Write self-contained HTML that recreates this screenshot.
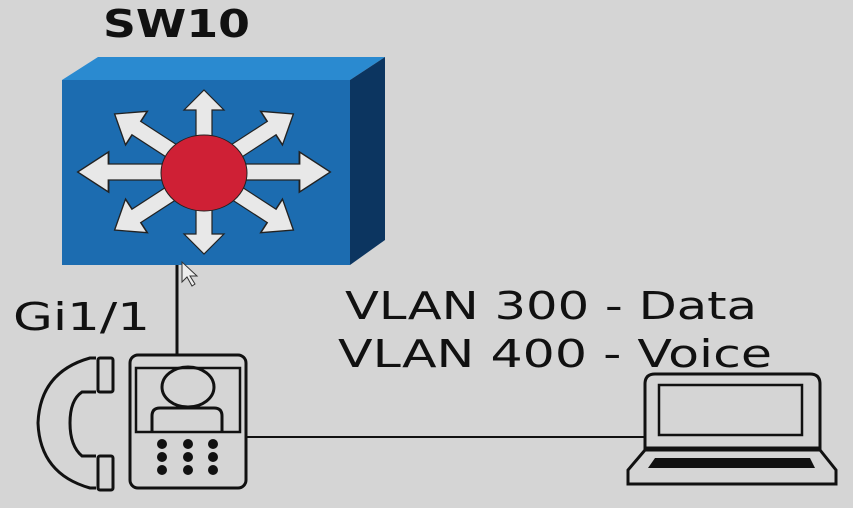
<!DOCTYPE html>
<html><head><style>html,body{margin:0;padding:0;background:#d5d5d5;}svg{display:block}</style></head>
<body>
<svg width="853" height="508" viewBox="0 0 853 508" xmlns="http://www.w3.org/2000/svg">
<rect width="853" height="508" fill="#d5d5d5"/>
<text x="103" y="37" font-family="DejaVu Sans, Liberation Sans, sans-serif" font-weight="bold" font-size="38" textLength="147" lengthAdjust="spacingAndGlyphs" fill="#111">SW10</text>
<!-- switch -->
<polygon points="62,80 98,57 385,57 350,80" fill="#2a8ad0"/>
<polygon points="350,80 385,57 385,240 350,265" fill="#0c3560"/>
<rect x="62" y="80" width="288" height="185" fill="#1c6cb0"/>
<defs>
  <polygon id="a" points="-8,0 -8,-62 -20,-62 0,-82 20,-62 8,-62 8,0" fill="#e8e8e8" stroke="#222" stroke-width="1.2"/>
</defs>
<g transform="translate(204,172)">
  <use href="#a" transform="rotate(-57) scale(1,1.3)"/>
  <use href="#a" transform="rotate(57) scale(1,1.3)"/>
  <use href="#a" transform="rotate(123) scale(1,1.3)"/>
  <use href="#a" transform="rotate(-123) scale(1,1.3)"/>
  <use href="#a"/>
  <use href="#a" transform="rotate(90) scale(1,1.54)"/>
  <use href="#a" transform="rotate(180)"/>
  <use href="#a" transform="rotate(270) scale(1,1.54)"/>
</g>
<ellipse cx="204" cy="173" rx="43" ry="38" fill="#cf2035" stroke="#222" stroke-width="1"/>
<!-- cursor -->
<polygon points="182,262 182,282 187,277 192,286 195,284 190,276 197,276" fill="#eee" stroke="#333" stroke-width="1"/>
<!-- links -->
<line x1="177" y1="265" x2="177" y2="355" stroke="#111" stroke-width="3"/>
<line x1="246" y1="437" x2="645" y2="437" stroke="#111" stroke-width="2"/>
<text x="13" y="330" font-family="DejaVu Sans, Liberation Sans, sans-serif" font-size="38" textLength="137" lengthAdjust="spacingAndGlyphs" fill="#111">Gi1/1</text>
<text x="345" y="319" font-family="DejaVu Sans, Liberation Sans, sans-serif" font-size="38" textLength="412" lengthAdjust="spacingAndGlyphs" fill="#111">VLAN 300 - Data</text>
<text x="338" y="367" font-family="DejaVu Sans, Liberation Sans, sans-serif" font-size="38" textLength="434" lengthAdjust="spacingAndGlyphs" fill="#111">VLAN 400 - Voice</text>
<!-- phone -->
<g fill="none" stroke="#111" stroke-width="3">
  <rect x="130" y="355" width="116" height="133" rx="8"/>
  <rect x="136" y="368" width="104" height="64" stroke-width="2.5"/>
  <ellipse cx="188" cy="387" rx="26" ry="20"/>
  <path d="M152,432 V416 Q152,408 160,408 H214 Q222,408 222,416 V432"/>
  <rect x="98" y="358" width="15" height="34" rx="2"/>
  <rect x="98" y="456" width="15" height="34" rx="2"/>
  <path d="M96,358 H90 Q40,372 38,423 Q40,474 90,488 H96"/>
  <path d="M96,392 H82 Q70,400 70,423 Q70,446 82,456 H96"/>
</g>
<g fill="#111">
  <circle cx="162" cy="444" r="5"/><circle cx="188" cy="444" r="5"/><circle cx="213" cy="444" r="5"/>
  <circle cx="162" cy="457" r="5"/><circle cx="188" cy="457" r="5"/><circle cx="213" cy="457" r="5"/>
  <circle cx="162" cy="470" r="5"/><circle cx="188" cy="470" r="5"/><circle cx="213" cy="470" r="5"/>
</g>
<!-- laptop -->
<g fill="none" stroke="#111" stroke-width="3">
  <path d="M645,448 V384 Q645,374 655,374 H810 Q820,374 820,384 V448 Z"/>
  <rect x="659" y="385" width="143" height="50" stroke-width="2.5"/>
  <path d="M645,450 H820 L836,470 V484 H628 V470 Z"/>
</g>
<polygon points="655,458 810,458 815,468 648,468" fill="#111"/>
</svg>
</body></html>
